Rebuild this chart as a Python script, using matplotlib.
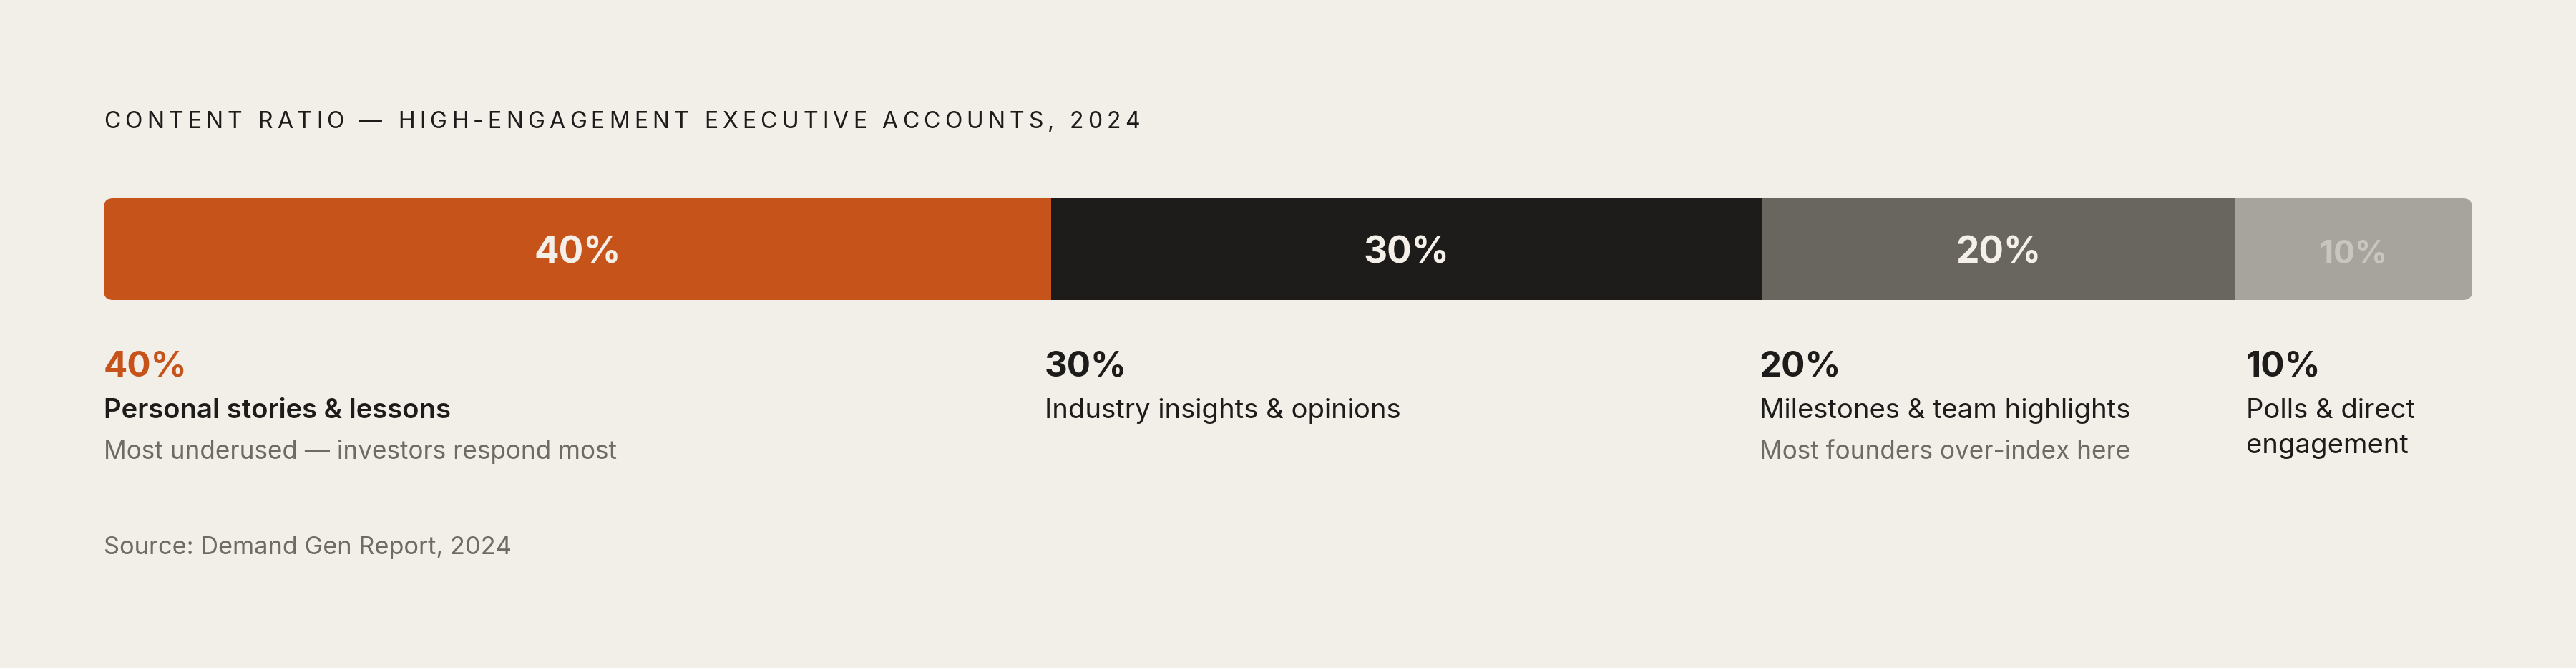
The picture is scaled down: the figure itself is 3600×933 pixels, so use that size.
import matplotlib
matplotlib.use("Agg")
import matplotlib.pyplot as plt
from matplotlib.patches import FancyBboxPatch
from matplotlib import transforms

# chart data
categories = ["Personal stories & lessons", "Industry insights & opinions",
              "Milestones & team highlights", "Polls & direct\nengagement"]
shares = [40, 30, 20, 10]
notes = ["Most underused \u2014 investors respond most", "",
         "Most founders over-index here", ""]
title = "CONTENT RATIO \u2014 HIGH-ENGAGEMENT EXECUTIVE ACCOUNTS, 2024"
source = "Source: Demand Gen Report, 2024"

# styling
bg = "#F2EEE8"
seg_colors = ["#C6531A", "#1D1C1A", "#69665F", "#A7A39D"]
inner_colors = ["#F4EFE8", "#F4EFE8", "#F4EFE8", "#C9C5BF"]
pct_colors = ["#C6531A", "#1D1C1A", "#1D1C1A", "#1D1C1A"]
ink = "#1D1C1A"
muted = "#6E6A64"
font = "Inter"

W, H = 3600, 933
fig = plt.figure(figsize=(W / 100, H / 100), dpi=100, facecolor=bg)

# pixel canvas for text
pix = fig.add_axes([0, 0, 1, 1])
pix.set_xlim(0, W)
pix.set_ylim(H, 0)
pix.axis("off")

# bar geometry (px)
bx0, bx1, by0, by1 = 145, 3455, 277, 419
ax = fig.add_axes([bx0 / W, 1 - by1 / H, (bx1 - bx0) / W, (by1 - by0) / H])
ax.set_xlim(0, 100)
ax.set_ylim(-0.5, 0.5)
ax.axis("off")
ax.patch.set_visible(False)

starts = [sum(shares[:i]) for i in range(len(shares))]
bars = ax.barh(0, shares, left=starts, height=1, color=seg_colors, linewidth=0)

clip = FancyBboxPatch((bx0, by0), bx1 - bx0, by1 - by0,
                      boxstyle="round,pad=0,rounding_size=13",
                      transform=pix.transData, facecolor="none", edgecolor="none")
pix.add_patch(clip)
for b in bars:
    b.set_clip_path(clip)

# labels inside the bar
for i, (s, v) in enumerate(zip(starts, shares)):
    small = v < 15
    ax.text(s + v / 2, -0.14, f"{v}%",
            ha="center", va="baseline", fontsize=32 if small else 37,
            fontweight="bold", color=inner_colors[i], family=font)

# labels under the bar
mix = transforms.blended_transform_factory(ax.transData, pix.transData)
nudge = [0, -0.27, -0.1, 0.45]
for i, s in enumerate(starts):
    x = s + nudge[i]
    pix.text(x, 525, f"{shares[i]}%", transform=mix, ha="left", va="baseline",
             fontsize=35.5, fontweight="bold", color=pct_colors[i], family=font)
    lines = categories[i].split("\n")
    for j, ln in enumerate(lines):
        pix.text(x, 584 + 49 * j, ln, transform=mix, ha="left", va="baseline",
                 fontsize=27.5, fontweight="semibold" if i == 0 else "normal",
                 color=ink, family=font)
    if notes[i]:
        pix.text(x, 641, notes[i], transform=mix, ha="left", va="baseline",
                 fontsize=25.3, color=muted, family=font)

pix.text(145, 774, source, ha="left", va="baseline", fontsize=24.8, color=muted,
         family=font)

# letter-spaced title
rend = fig.canvas.get_renderer()
tkw = dict(fontsize=23, color=ink, family=font)


def text_w(s):
    t = pix.text(0, 0, s + "|", **tkw)
    w = t.get_window_extent(rend).width
    t.remove()
    return w


bar_w = text_w("")
offsets = [text_w(title[:i]) - bar_w for i in range(len(title))]
natural = text_w(title) - bar_w
spacing = (1448 - natural) / (len(title) - 1)
for i, ch in enumerate(title):
    pix.text(145 + offsets[i] + i * spacing, 179, ch, ha="left", va="baseline", **tkw)

fig.savefig("out.png", dpi=100, facecolor=bg)
